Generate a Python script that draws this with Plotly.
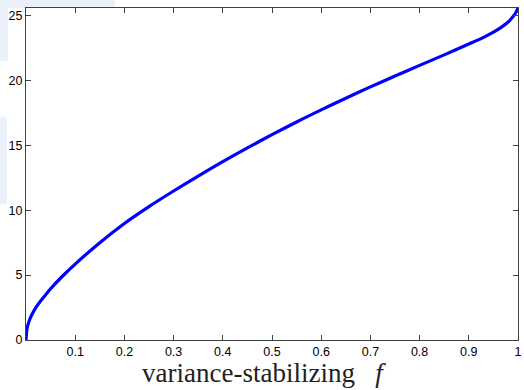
import plotly.graph_objects as go

# Transformed value versus proportion
p_values = [0, 0.002, 0.005, 0.01, 0.02, 0.035, 0.05, 0.075, 0.1, 0.15, 0.2, 0.25,
            0.3, 0.35, 0.4, 0.45, 0.5, 0.55, 0.6, 0.65, 0.7, 0.75, 0.8, 0.85,
            0.9, 0.93, 0.95, 0.965, 0.98, 0.99, 0.996, 1.0]
f_values = [0, 0.85, 1.3, 1.8, 2.5, 3.25, 3.95, 4.95, 5.85, 7.5, 8.98, 10.28,
            11.48, 12.63, 13.74, 14.8, 15.82, 16.8, 17.73, 18.63, 19.5, 20.34, 21.16, 21.97,
            22.8, 23.32, 23.72, 24.07, 24.5, 24.92, 25.25, 25.58]

x_ticks = [0.1, 0.2, 0.3, 0.4, 0.5, 0.6, 0.7, 0.8, 0.9, 1]
x_tick_text = ["0.1", "0.2", "0.3", "0.4", "0.5", "0.6", "0.7", "0.8", "0.9", "1"]
y_ticks = [0, 5, 10, 15, 20, 25]

fig = go.Figure()
fig.add_trace(go.Scatter(
    x=p_values, y=f_values, mode="lines",
    line=dict(color="#0000ff", width=3.2, shape="spline", smoothing=0.9),
    hoverinfo="skip", showlegend=False,
))

axis_common = dict(
    showline=True, mirror="ticks", linecolor="#404040", linewidth=1.3,
    ticks="inside", ticklen=5, tickcolor="#404040", tickwidth=1,
    showgrid=False, zeroline=False, ticklabeloverflow="allow",
    tickfont=dict(family="Liberation Sans, Arial, sans-serif", size=12.5, color="#000000"),
)

fig.update_layout(
    width=524, height=390,
    margin=dict(l=26, r=2, t=8, b=50),
    paper_bgcolor="#ffffff", plot_bgcolor="#ffffff",
    xaxis=dict(range=[0, 1], tickvals=x_ticks, ticktext=x_tick_text, **axis_common),
    yaxis=dict(range=[0, 25.58], tickvals=y_ticks, **axis_common),
    shapes=[
        # faint slide decoration behind the axes
        dict(type="rect", xref="paper", yref="paper", x0=-0.06, x1=0.18, y0=1.0, y1=1.03,
             fillcolor="#eaf1f9", line_width=0, layer="below"),
        dict(type="rect", xref="paper", yref="paper", x0=-0.06, x1=-0.037, y0=0.84, y1=1.03,
             fillcolor="#eaf1f9", line_width=0, layer="below"),
        dict(type="rect", xref="paper", yref="paper", x0=-0.06, x1=-0.039, y0=0.41, y1=0.67,
             fillcolor="#eaf1f9", line_width=0, layer="below"),
    ],
    annotations=[
        dict(text="variance-stabilizing&nbsp;&nbsp;&nbsp;<i>f</i>", xref="paper", yref="paper",
             x=0.484, y=-0.098, xanchor="center", yanchor="middle", showarrow=False,
             font=dict(family="Liberation Serif, DejaVu Serif, serif", size=27, color="#222222")),
    ],
)

fig.write_html("out.html")
